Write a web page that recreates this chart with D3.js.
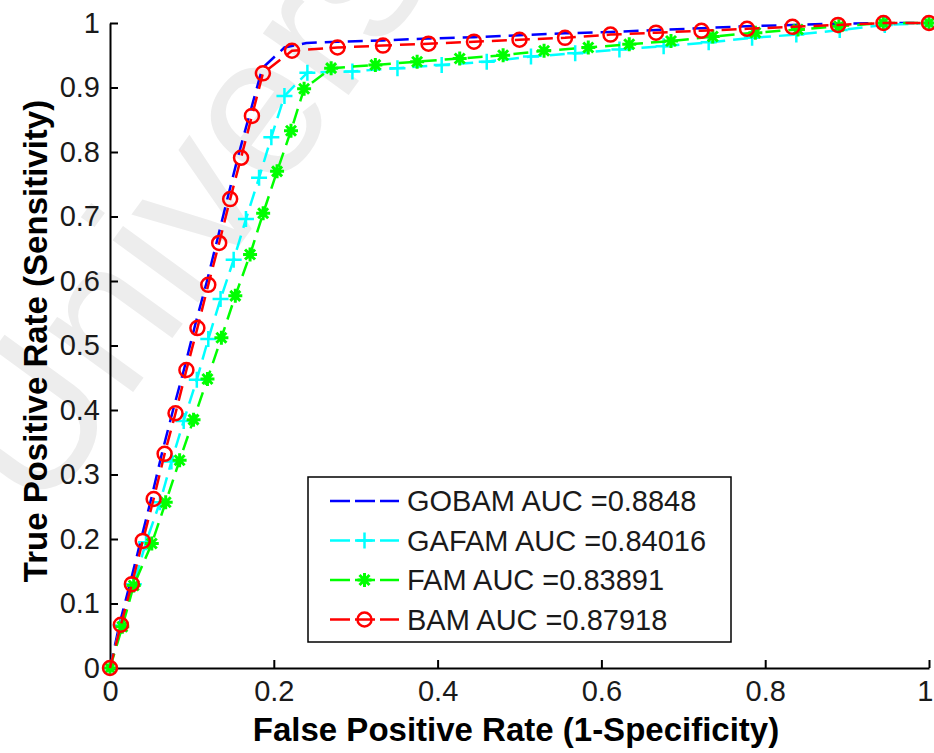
<!DOCTYPE html>
<html>
<head>
<meta charset="utf-8">
<script src="https://cdn.jsdelivr.net/npm/d3@7"></script>
<style>
  body { margin: 0; background: #fff; }
  svg { display: block; }
</style>
</head>
<body>
<div id="chart"></div>
<script>
// ROC data
const xTicks = [0, 0.2, 0.4, 0.6, 0.8, 1];
const xTickLabels = ["0", "0.2", "0.4", "0.6", "0.8", "1"];
const yTicks = [0, 0.1, 0.2, 0.3, 0.4, 0.5, 0.6, 0.7, 0.8, 0.9, 1];
const yTickLabels = ["0", "0.1", "0.2", "0.3", "0.4", "0.5", "0.6", "0.7", "0.8", "0.9", "1"];

const fprGOBAM = [0, 0.012, 0.025, 0.038, 0.051, 0.064, 0.077, 0.091, 0.104, 0.118, 0.131, 0.144, 0.157, 0.171, 0.186, 0.213, 0.24,
  0.2778, 0.3333, 0.3889, 0.4444, 0.5, 0.5556, 0.6111, 0.6667, 0.7222, 0.7778, 0.8333, 0.8889, 0.9444, 1];
const tprGOBAM = [0, 0.07, 0.134, 0.2, 0.266, 0.336, 0.4, 0.466, 0.532, 0.598, 0.664, 0.731, 0.796, 0.861, 0.93, 0.962, 0.969,
  0.971, 0.973, 0.976, 0.978, 0.981, 0.984, 0.986, 0.989, 0.992, 0.995, 0.997, 0.999, 1, 1];

const fprGAFAM = [0, 0.013, 0.029, 0.044, 0.061, 0.075, 0.09, 0.106, 0.12, 0.135, 0.151, 0.166, 0.182, 0.197, 0.213,
  0.241, 0.296, 0.351, 0.405, 0.46, 0.514, 0.568, 0.622, 0.676, 0.731, 0.784, 0.838, 0.891, 0.946, 1];
const tprGAFAM = [0, 0.066, 0.13, 0.195, 0.257, 0.32, 0.383, 0.447, 0.51, 0.572, 0.633, 0.696, 0.76, 0.823, 0.887,
  0.923, 0.925, 0.93, 0.935, 0.94, 0.948, 0.953, 0.959, 0.964, 0.97, 0.977, 0.982, 0.989, 0.997, 1];

const fprFAM = [0, 0.015, 0.029, 0.051, 0.068, 0.085, 0.102, 0.119, 0.136, 0.153, 0.171, 0.187, 0.204, 0.221, 0.237,
  0.27, 0.324, 0.375, 0.427, 0.48, 0.53, 0.584, 0.634, 0.685, 0.736, 0.788, 0.84, 0.89, 0.944, 1];
const tprFAM = [0, 0.064, 0.128, 0.193, 0.257, 0.322, 0.385, 0.448, 0.512, 0.577, 0.641, 0.705, 0.77, 0.833, 0.898,
  0.93, 0.935, 0.94, 0.945, 0.95, 0.957, 0.962, 0.967, 0.972, 0.979, 0.985, 0.99, 0.995, 1, 1];

const fprBAM = [0, 0.0133, 0.0267, 0.04, 0.0533, 0.0667, 0.08, 0.0933, 0.1067, 0.12, 0.1333, 0.1467, 0.16, 0.1733, 0.1867,
  0.2222, 0.2778, 0.3333, 0.3889, 0.4444, 0.5, 0.5556, 0.6111, 0.6667, 0.7222, 0.7778, 0.8333, 0.8889, 0.9444, 1];
const tprBAM = [0, 0.067, 0.13, 0.197, 0.262, 0.332, 0.395, 0.462, 0.527, 0.594, 0.659, 0.727, 0.791, 0.856, 0.922,
  0.957, 0.962, 0.965, 0.968, 0.971, 0.974, 0.977, 0.982, 0.985, 0.988, 0.991, 0.994, 0.997, 1, 1];

const seriesNames = ["GOBAM AUC =0.8848", "GAFAM AUC =0.84016", "FAM AUC =0.83891", "BAM AUC =0.87918"];
const seriesColors = ["#0000ff", "#00ffff", "#00ff00", "#ff0000"];
const seriesMarkers = ["none", "plus", "star", "circle"];

const series = [
  {x: fprGOBAM, y: tprGOBAM},
  {x: fprGAFAM, y: tprGAFAM},
  {x: fprFAM, y: tprFAM},
  {x: fprBAM, y: tprBAM}
].map((s, i) => ({
  name: seriesNames[i], color: seriesColors[i], marker: seriesMarkers[i],
  pts: s.x.map((v, j) => [v, s.y[j]])
}));

const width = 934, height = 753;
const margin = {top: 23, right: 5, bottom: 85, left: 110};

const svg = d3.select("#chart").append("svg")
  .attr("width", width)
  .attr("height", height)
  .style("font-family", "'Liberation Sans', Arial, sans-serif");

svg.append("rect").attr("width", width).attr("height", height).attr("fill", "#fff");

// watermark
svg.append("text")
  .attr("transform", "translate(40,520) rotate(-54)")
  .attr("font-size", 200)
  .attr("fill", "#ededed")
  .text("Universiti");

const xScale = d3.scaleLinear().domain([0, 1]).range([margin.left, width - margin.right]);
const yScale = d3.scaleLinear().domain([0, 1]).range([height - margin.bottom, margin.top]);

// axes, ticks pointing inward
const xAxis = d3.axisBottom(xScale).tickValues(xTicks)
  .tickFormat((d, i) => xTickLabels[i]).tickSizeInner(-8).tickSizeOuter(0).tickPadding(12);
const yAxis = d3.axisLeft(yScale).tickValues(yTicks)
  .tickFormat((d, i) => yTickLabels[i]).tickSizeInner(-8).tickSizeOuter(0).tickPadding(10);

const gx = svg.append("g")
  .attr("transform", `translate(0,${height - margin.bottom})`)
  .call(xAxis);
const gy = svg.append("g")
  .attr("transform", `translate(${margin.left},0)`)
  .call(yAxis);

[gx, gy].forEach(g => {
  g.select(".domain").attr("stroke", "#000").attr("stroke-width", 2);
  g.selectAll(".tick line").attr("stroke", "#000").attr("stroke-width", 2);
  g.selectAll(".tick text")
    .attr("font-size", 29)
    .attr("font-family", "'Liberation Sans', Arial, sans-serif")
    .attr("fill", "#1a1a1a");
});
// last x label sits against the right edge
gx.selectAll(".tick text").filter(d => d === 1)
  .attr("text-anchor", "end").attr("x", 4);

svg.append("text")
  .attr("x", 516).attr("y", 741)
  .attr("text-anchor", "middle")
  .attr("font-size", 33).attr("font-weight", "bold")
  .text("False Positive Rate (1-Specificity)");

svg.append("text")
  .attr("transform", "translate(47,341) rotate(-90)")
  .attr("text-anchor", "middle")
  .attr("font-size", 33).attr("font-weight", "bold")
  .text("True Positive Rate (Sensitivity)");

// markers
function drawMarker(g, type, color, cx, cy) {
  if (type === "circle") {
    g.append("circle").attr("cx", cx).attr("cy", cy).attr("r", 7)
      .attr("fill", "none").attr("stroke", color).attr("stroke-width", 2.5);
  } else if (type === "plus") {
    g.append("path").attr("d", `M${cx - 8},${cy}H${cx + 8}M${cx},${cy - 8}V${cy + 8}`)
      .attr("stroke", color).attr("stroke-width", 2.5);
  } else if (type === "star") {
    const r = 7, d = 5;
    g.append("path")
      .attr("d", `M${cx - r},${cy}H${cx + r}M${cx},${cy - r}V${cy + r}` +
        `M${cx - d},${cy - d}L${cx + d},${cy + d}M${cx - d},${cy + d}L${cx + d},${cy - d}`)
      .attr("stroke", color).attr("stroke-width", 3);
  }
}

const line = d3.line().x(d => xScale(d[0])).y(d => yScale(d[1]));

const plot = svg.append("g");
series.forEach(s => {
  const g = plot.append("g");
  g.append("path")
    .attr("d", line(s.pts))
    .attr("fill", "none")
    .attr("stroke", s.color)
    .attr("stroke-width", 2.5)
    .attr("stroke-dasharray", "15,8");
  s.pts.forEach(p => drawMarker(g, s.marker, s.color, xScale(p[0]), yScale(p[1])));
});

// legend
const legend = svg.append("g");
legend.append("rect")
  .attr("x", 308).attr("y", 477).attr("width", 423).attr("height", 165)
  .attr("fill", "#fff").attr("stroke", "#000").attr("stroke-width", 1.5);

series.forEach((s, i) => {
  const yy = 501 + i * 39.5;
  legend.append("path")
    .attr("d", `M330,${yy}H399`)
    .attr("stroke", s.color).attr("stroke-width", 2.5)
    .attr("stroke-dasharray", "20,5");
  drawMarker(legend, s.marker, s.color, 364.5, yy);
  legend.append("text")
    .attr("x", 407).attr("y", yy + 10)
    .attr("font-size", 29).attr("fill", "#1a1a1a")
    .text(s.name);
});
</script>
</body>
</html>
